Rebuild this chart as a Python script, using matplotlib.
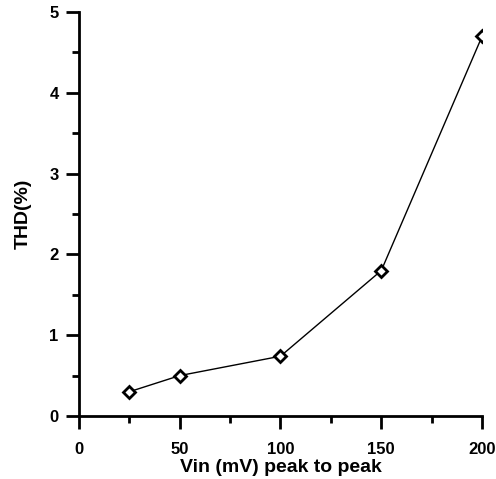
import matplotlib
matplotlib.use('Agg')
import matplotlib.pyplot as plt
from matplotlib.ticker import MultipleLocator

plt.rcParams['font.family'] = ['Liberation Sans', 'DejaVu Sans']
plt.rcParams['font.weight'] = 'bold'

# THD vs input amplitude
vin = [25, 50, 100, 150, 200]
thd = [0.3, 0.5, 0.74, 1.8, 4.7]

fig = plt.figure(figsize=(4.96, 4.79), dpi=100)
ax = fig.add_axes([0.159, 0.1315, 0.813, 0.8435])

ax.plot(vin, thd, color='black', lw=1, marker='D', ms=6,
        mfc='white', mec='black', mew=2)

ax.set_xlim(0, 200)
ax.set_ylim(0, 5)
ax.xaxis.set_major_locator(MultipleLocator(50))
ax.xaxis.set_minor_locator(MultipleLocator(25))
ax.yaxis.set_major_locator(MultipleLocator(1))
ax.yaxis.set_minor_locator(MultipleLocator(0.5))

for s in ['top', 'right']:
    ax.spines[s].set_visible(False)
for s in ['left', 'bottom']:
    ax.spines[s].set_linewidth(2)

ax.tick_params(which='major', direction='out', length=9.5, width=2, labelsize=12, pad=5)
ax.tick_params(which='minor', direction='out', length=5, width=2)
ax.tick_params(axis='x', which='major', pad=9)
for lbl in ax.get_xticklabels() + ax.get_yticklabels():
    lbl.set_fontweight('bold')

ax.set_xlabel('Vin (mV) peak to peak', fontsize=14, fontweight='bold', labelpad=2)
ax.set_ylabel('THD(%)', fontsize=14, fontweight='bold', labelpad=13)

fig.savefig('out.png', dpi=100)
